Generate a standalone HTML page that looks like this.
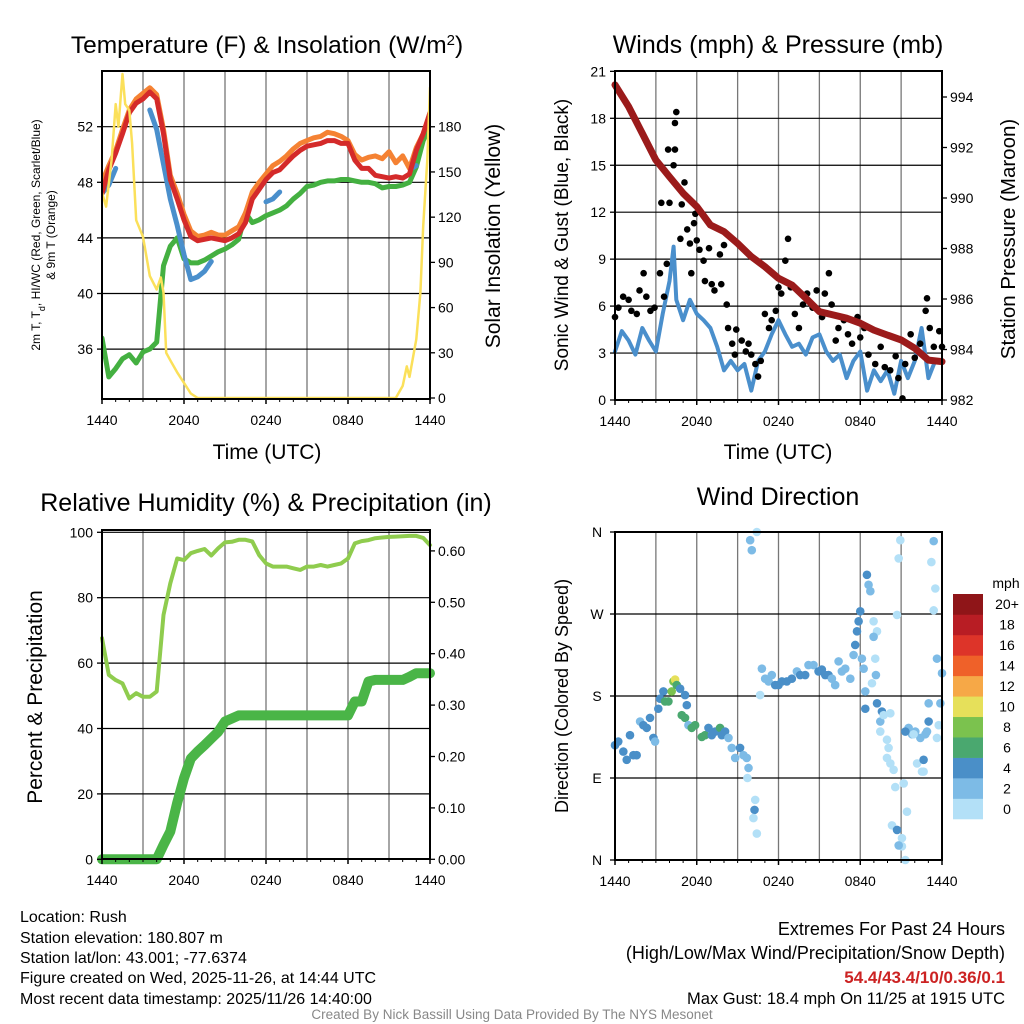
<!DOCTYPE html>
<html><head><meta charset="utf-8">
<style>
html,body{margin:0;padding:0;background:#fff;}
svg{display:block;font-family:"Liberation Sans",Arial,sans-serif;}
</style></head>
<body>
<svg id="fig" width="1024" height="1024" viewBox="0 0 1024 1024" xmlns="http://www.w3.org/2000/svg">
<rect width="1024" height="1024" fill="#fff"/>
<g id="p1"></g>
<g id="p2"></g>
<g id="p3"></g>
<g id="p4"></g>

<text x="267" y="53" font-size="24.5" text-anchor="middle">Temperature (F) &amp; Insolation (W/m<tspan baseline-shift="super" font-size="15">2</tspan>)</text>
<text x="778" y="53" font-size="25" text-anchor="middle">Winds (mph) &amp; Pressure (mb)</text>
<text x="266" y="511" font-size="25" text-anchor="middle">Relative Humidity (%) &amp; Precipitation (in)</text>
<text x="778" y="505" font-size="25" text-anchor="middle">Wind Direction</text>

<text font-size="12" text-anchor="middle" transform="translate(40,235) rotate(-90)">2m T, T<tspan baseline-shift="sub" font-size="9">d</tspan>, HI/WC (Red, Green, Scarlet/Blue)</text>
<text font-size="12" text-anchor="middle" transform="translate(55,235) rotate(-90)">&amp; 9m T (Orange)</text>
<text font-size="21" text-anchor="middle" transform="translate(500,236) rotate(-90)">Solar Insolation (Yellow)</text>
<text font-size="19" text-anchor="middle" transform="translate(568,235) rotate(-90)">Sonic Wind &amp; Gust (Blue, Black)</text>
<text font-size="20.5" text-anchor="middle" transform="translate(1015,239) rotate(-90)">Station Pressure (Maroon)</text>
<text font-size="21" text-anchor="middle" transform="translate(42,697) rotate(-90)">Percent &amp; Precipitation</text>
<text font-size="18" text-anchor="middle" transform="translate(568,696) rotate(-90)">Direction (Colored By Speed)</text>
<text x="267" y="459" font-size="21" text-anchor="middle">Time (UTC)</text>
<text x="778" y="459" font-size="21" text-anchor="middle">Time (UTC)</text>

<g font-size="16">
<text x="20" y="922">Location: Rush</text>
<text x="20" y="943">Station elevation: 180.807 m</text>
<text x="20" y="963">Station lat/lon: 43.001; -77.6374</text>
<text x="20" y="983">Figure created on Wed, 2025-11-26, at 14:44 UTC</text>
<text x="20" y="1004">Most recent data timestamp: 2025/11/26 14:40:00</text>
</g>
<g text-anchor="end">
<text x="1005" y="935" font-size="18">Extremes For Past 24 Hours</text>
<text x="1005" y="959" font-size="18">(High/Low/Max Wind/Precipitation/Snow Depth)</text>
<text x="1005" y="983" font-size="17" font-weight="bold" fill="#cc2222">54.4/43.4/10/0.36/0.1</text>
<text x="1005" y="1004" font-size="16.5">Max Gust: 18.4 mph On 11/25 at 1915 UTC</text>
</g>
<text x="512" y="1019" font-size="13.5" fill="#888" text-anchor="middle">Created By Nick Bassill Using Data Provided By The NYS Mesonet</text>
</svg>
<script>
// ---------- data ----------
const xTickLabels = ["1440","2040","0240","0840","1440"];
const halfHours = Array.from({length:49},(_,i)=>i*0.5);
const tempT = [47.2,48.9,50.1,51.5,53,53.7,54,54.5,54,51.5,48.2,46.8,45.3,44.1,43.8,43.9,44.0,43.9,43.8,44.0,44.3,45.1,46.8,47.5,48.2,48.7,48.9,49.4,49.9,50.3,50.6,50.7,50.8,51.0,51.0,50.8,50.8,49.6,49.0,49.0,48.5,48.4,48.3,48.4,48.3,48.6,50.3,51.5,53.0];
const temp9m = [48.0,49.2,50.3,51.8,53.2,54.0,54.4,54.8,54.3,51.8,48.5,47.2,45.7,44.5,44.1,44.2,44.4,44.2,44.2,44.5,44.8,45.8,47.3,48.0,48.6,49.2,49.5,49.9,50.4,50.8,51.0,51.2,51.3,51.6,51.5,51.3,51.0,50.0,49.6,49.8,49.9,49.7,50.2,49.4,49.9,49.0,50.5,51.5,53.0];
const dewT = [36.8,34.0,34.6,35.3,35.6,35.0,35.8,36.0,36.5,42.0,43.4,44.0,42.5,42.2,42.2,42.4,42.7,43.0,43.2,43.5,43.9,45.8,45.1,45.3,45.6,45.8,46.0,46.3,46.8,47.2,47.7,47.8,48.0,48.1,48.1,48.2,48.2,48.1,48.0,48.0,47.9,47.6,47.7,47.7,47.8,48.0,49.1,51.0,52.0];
const hiwc = [47.2,47.8,49.0,null,null,null,null,53.2,51.8,49.3,46.8,44.9,42.8,41.0,41.2,41.6,42.3,null,null,null,null,null,null,null,46.6,46.8,47.3,null,null,null,null,null,null,null,null,null,null,null,null,null,null,null,null,null,null,null,49.2,null,null];
const solT = [0,0.3,0.7,1,1.2,1.5,1.7,2,2.2,2.5,3,3.5,4,4.3,4.5,4.7,5,5.5,6,6.5,7,21.5,22,22.3,22.5,23,23.3,23.5,23.8,24];
const solV = [136,127,158,195,180,215,195,191,169,118,107,81,72,80,70,30,25,17,10,3,0,0,8,21,14,39,70,114,158,206];
const tempTicks = [36,40,44,48,52];
const solTicks = [0,30,60,90,120,150,180];

const hourly = Array.from({length:25},(_,i)=>i);
const pressure = [994.48,993.62,992.56,991.5,990.84,990.19,989.66,988.93,988.67,988.2,987.68,987.28,986.82,986.55,986.03,985.5,985.37,985.24,985.04,984.77,984.57,984.38,984.05,983.58,983.52];
const sonicWind = [3.1,4.4,3.8,2.9,4.6,3.8,3.1,5.5,7.6,6.4,5.1,6.4,5.5,5.1,4.6,3.4,1.9,2.5,1.9,2.3,0.6,2.5,3.1,4.2,5.1,4.2,3.4,3.6,2.9,4.0,4.2,3.1,2.5,2.9,1.4,2.5,3.1,0.6,1.9,1.2,1.9,0.4,2.5,1.4,2.5,4.6,1.4,2.5,2.5];
const sonicPeakT = 4.3, sonicPeakV = 9.8;
const gustT = [0,0.25,0.6,1,1.2,1.6,1.8,2.1,2.3,2.6,2.9,3.3,3.6,3.8,3.4,4.0,3.9,4.4,4.3,4.4,4.5,4.9,5.1,4.8,5.3,5.5,5.8,5.9,6.0,5.6,6.2,6.5,6.6,6.9,7.1,7.3,7.7,8.0,7.8,8.2,8.3,8.6,8.8,8.9,9.3,9.6,9.8,10,10.3,10.5,10.7,11,11.3,11.5,11.8,12,12.2,12.5,12.7,12.9,13.2,13.5,13.8,14.1,14.5,14.8,15.2,15.4,15.7,15.9,16.2,16.4,16.8,17.1,17.4,17.8,18,18.3,18.6,19.1,19.5,19.8,20.2,20.6,20.8,21.1,21.3,21.7,22,22.4,22.8,22.9,23.1,23.4,23.8,24];
const gustV = [5.3,5.9,6.6,6.4,5.7,5.5,7.0,8.1,6.6,5.7,5.9,8.1,6.6,8.7,12.6,12.6,16,16,15,17.7,18.4,12.5,13.9,10.3,10.9,10,11.3,11.9,10.2,8.1,9.6,8.9,7.6,9.7,7.4,7.0,9.3,9.9,7.4,6.1,4.6,3.6,2.9,4.5,3.8,3.1,3.6,2.9,2.3,1.5,2.5,5.5,4.6,5.1,5.7,7.2,6.8,8.9,10.3,7.2,5.5,4.6,6.1,6.8,5.9,7.0,5.3,6.8,8.1,6.1,3.8,4.6,5.1,4.2,3.6,5.3,4.0,4.6,2.9,2.3,3.4,2.1,1.9,2.8,1.4,0.1,2.3,4.2,2.7,3.6,5.7,6.5,4.6,3.4,4.4,3.4];
const windTicks = [0,3,6,9,12,15,18,21];
const presTicks = [982,984,986,988,990,992,994];

const rh = [67.6,56.4,54.8,53.8,49.2,50.8,49.7,49.7,51.3,74.7,84.4,92.0,91.5,93.6,94.3,94.9,92.9,95.1,96.9,97.1,97.7,97.7,97.2,93.0,90.5,89.5,89.5,89.5,89.0,88.5,89.5,89.5,90.0,89.5,90.0,90.5,92.0,96.6,97.3,97.6,98.2,98.4,98.6,98.7,98.8,98.9,98.9,98.3,96.1];
const precip = [0,0,0,0,0,0,0,0,0,0.028,0.054,0.11,0.158,0.196,0.21,0.222,0.235,0.248,0.268,0.274,0.28,0.28,0.28,0.28,0.28,0.28,0.28,0.28,0.28,0.28,0.28,0.28,0.28,0.28,0.28,0.28,0.28,0.307,0.307,0.346,0.349,0.349,0.349,0.349,0.349,0.355,0.362,0.362,0.362];
const rhTicks = [0,20,40,60,80,100];
const prTicks = [0,0.1,0.2,0.3,0.4,0.5,0.6];

const dirT = [0,0.24,0.61,0.86,1.1,1.35,1.59,1.84,2.08,2.33,2.57,2.82,2.94,3.18,3.31,3.55,3.67,3.92,4.16,4.29,4.41,4.53,4.78,5.14,5.27,4.9,5.14,5.39,5.63,5.88,6.37,6.61,6.86,7.1,7.35,7.71,7.84,8.08,8.33,8.57,8.82,9.18,9.43,9.67,9.8,9.72,9.92,10.04,10.41,10.29,10.24,10.16,10.41,10.65,10.78,11.02,11.27,11.51,11.76,12,12.25,12.61,12.98,13.35,13.59,13.96,14.2,14.57,14.94,15.18,15.43,15.67,15.92,16.16,16.41,16.65,16.9,17.27,17.51,17.63,17.76,17.88,18,18.12,18.25,18.37,18.49,18.61,18.74,18.98,19.23,18.98,19.1,19.15,18.86,18.37,19.23,19.59,19.47,19.72,19.47,19.96,20.08,19.96,20.21,20.45,20.57,20.21,20.33,20.7,20.7,20.82,20.94,21.06,21.06,21.31,21.19,21.43,21.55,21.8,22.04,22.41,22.78,22.9,23.02,21.31,21.92,22.17,22.65,22.65,22.53,23.22,23.39,23.51,23.39,23.63,23.63,23.76,23.88,24,23.02,20.82];
const dirDeg = [126,130,119,110,137,115,115,152,148,145,156,134,130,166,177,185,174,174,185,196,198,192,188,181,170,159,156,148,145,148,135,137,145,137,141,145,137,141,134,123,112,123,115,112,101,90,351,340,360,66,55,46,29,181,210,199,196,203,192,192,196,196,199,207,203,203,214,214,207,209,203,203,199,192,218,207,210,199,225,236,251,262,273,221,210,185,313,302,295,262,251,245,221,203,194,166,172,163,152,159,141,132,123,112,106,99,80,161,38,33,269,331,351,24,15,0,84,53,145,138,141,134,138,141,152,141,138,106,97,110,97,327,350,298,274,221,134,148,172,205,172,16,274];
const dirSpd = [4,4,4,4,4,4,4,3,4,4,4,4,3,4,4,4,6,6,8,8,10,6,4,4,4,6,6,3,6,6,6,6,4,4,4,6,4,4,3,3,3,4,3,3,3,1,3,3,1,1,4,1,1,1,3,3,3,3,4,4,4,4,4,3,4,4,3,3,4,4,4,4,3,3,3,3,3,3,3,4,4,4,4,3,3,3,4,3,3,1,1,2,1,3,1,4,4,4,3,1,1,1,1,1,1,1,1,1,1,4,1,1,1,1,1,1,1,1,3,3,3,3,3,2,4,4,1,1,1,4,1,1,3,1,1,3,1,1,3,3,3,3,1];
const dirLabels = ["N","E","S","W","N"];
const binLabels = ["0","2","4","6","8","10","12","14","16","18","20+"];
const binColors = ["#b3e0f7","#7dbbe6","#4a8fc8","#4aa86f","#7bc24e","#e6e05a","#f6a847","#ef6129","#dd3429","#b81d24","#8f1518"];

// ---------- helpers ----------
const NS="http://www.w3.org/2000/svg";
function mk(parent, tag, attrs){const e=document.createElementNS(NS,tag);for(const k in attrs)e.setAttribute(k,attrs[k]);parent.appendChild(e);return e;}
function linePath(ts, vs, xf, yf){let d="",pen=false;for(let i=0;i<ts.length;i++){const v=vs[i];if(v===null||v===undefined){pen=false;continue;}d+=(pen?"L":"M")+xf(ts[i]).toFixed(1)+","+yf(v).toFixed(1);pen=true;}return d;}
function panelFrame(g, x0,x1,y0,y1, hTicksY){
  for(let h=3;h<24;h+=3){const x=x0+(x1-x0)*h/24;
    const l=mk(g,"line",{x1:x,x2:x,y1:y0,y2:y1,stroke:"#777","stroke-width":1.3});
    
    }
  hTicksY.forEach(y=>{if(y>y0+1&&y<y1-1){const l=mk(g,"line",{x1:x0,x2:x1,y1:y,y2:y,stroke:"#000","stroke-width":1.2});
    
    }});
}
function border(g,x0,x1,y0,y1){const r=mk(g,"rect",{x:x0,y:y0,width:x1-x0,height:y1-y0,fill:"none",stroke:"#000","stroke-width":2});
  
  }
function xAxis(g,x0,x1,y1){xTickLabels.forEach((s,i)=>{const x=x0+(x1-x0)*i/4;
  mk(g,"line",{x1:x,x2:x,y1:y1,y2:y1+5,stroke:"#000","stroke-width":1.5});
  const t=mk(g,"text",{x:x,y:y1+26,"font-size":14,"text-anchor":"middle"});t.textContent=s;
  
  });
  for(let h=1;h<24;h++){if(h%6){const x=x0+(x1-x0)*h/24;mk(g,"line",{x1:x,x2:x,y1:y1,y2:y1+3,stroke:"#000","stroke-width":1});}}}
function yTicks(g,ticks,yf,x,side,fmt){ticks.forEach(v=>{const y=yf(v);
  mk(g,"line",{x1:x,x2:x+(side==="left"?-5:5),y1:y,y2:y,stroke:"#000","stroke-width":1.3});
  const t=mk(g,"text",{x:side==="left"?x-9:x+8,y:y+5,"font-size":14,"text-anchor":side==="left"?"end":"start"});t.textContent=fmt?fmt(v):v;
  
  });}

// ---------- panel 1 ----------
(function(){
  const g=document.getElementById("p1");const x0=102,x1=430,y0=71,y1=399;
  const xf=h=>x0+(x1-x0)*h/24, yT=v=>126.7-(v-52)*13.9, yS=v=>398-v*1.507;
  panelFrame(g,x0,x1,y0,y1,tempTicks.map(yT));
  const cp=mk(g,"clipPath",{id:"c1"});mk(cp,"rect",{x:x0,y:y0,width:x1-x0,height:y1-y0});
  const d=mk(g,"g",{"clip-path":"url(#c1)","stroke-linejoin":"round","stroke-linecap":"round",fill:"none"});
  let p;
  p=mk(d,"path",{d:linePath(halfHours,dewT,xf,yT),stroke:"#44b041","stroke-width":5});
  
  p=mk(d,"path",{d:linePath(halfHours,hiwc,xf,yT),stroke:"#4a8fcc","stroke-width":5});
  
  hiwc.forEach((v,i)=>{const a=hiwc[i-1],b=hiwc[i+1];if(v!==null&&(a===null||a===undefined)&&(b===null||b===undefined)){mk(d,"line",{x1:xf(halfHours[i])-5,x2:xf(halfHours[i]),y1:yT(v)+3,y2:yT(v),stroke:"#4a8fcc","stroke-width":5});}});
  p=mk(d,"path",{d:linePath(halfHours,temp9m,xf,yT),stroke:"#f58233","stroke-width":5});
  
  p=mk(d,"path",{d:linePath(halfHours,tempT,xf,yT),stroke:"#d42a2a","stroke-width":5});
  
  p=mk(d,"path",{d:linePath(solT,solV,xf,yS),stroke:"#fbe05a","stroke-width":2.5});
  
  border(g,x0,x1,y0,y1);xAxis(g,x0,x1,y1);
  yTicks(g,tempTicks,yT,x0,"left");yTicks(g,solTicks,yS,x1,"right");
})();

// ---------- panel 2 ----------
(function(){
  const g=document.getElementById("p2");const x0=615,x1=942,y0=71,y1=400;
  const xf=h=>x0+(x1-x0)*h/24, yW=v=>400-v*15.65, yP=v=>97-(v-994)*25.25;
  panelFrame(g,x0,x1,y0,y1,windTicks.map(yW));
  const cp=mk(g,"clipPath",{id:"c2"});mk(cp,"rect",{x:x0-4,y:y0,width:x1-x0+8,height:y1-y0});
  const d=mk(g,"g",{"clip-path":"url(#c2)","stroke-linejoin":"round","stroke-linecap":"round",fill:"none"});
  const wt=halfHours.slice(),wv=sonicWind.slice();
  const k=wt.findIndex(t=>t>sonicPeakT);wt.splice(k,0,sonicPeakT);wv.splice(k,0,sonicPeakV);
  let p=mk(d,"path",{d:linePath(wt,wv,xf,yW),stroke:"#4a8fcc","stroke-width":4});
  
  gustT.forEach((t,i)=>{const c=mk(d,"circle",{cx:xf(t),cy:yW(gustV[i]),r:3.3,fill:"#000"});
    
    });
  p=mk(d,"path",{d:linePath(hourly,pressure,xf,yP),stroke:"#9b1b1b","stroke-width":7});
  
  border(g,x0,x1,y0,y1);xAxis(g,x0,x1,y1);
  yTicks(g,windTicks,yW,x0,"left");yTicks(g,presTicks,yP,x1,"right");
})();

// ---------- panel 3 ----------
(function(){
  const g=document.getElementById("p3");const x0=102,x1=430,y0=530,y1=859;
  const xf=h=>x0+(x1-x0)*h/24, yR=v=>859.3-v*3.27, yPr=v=>859.3-v*514;
  panelFrame(g,x0,x1,y0,y1,rhTicks.map(yR));
  const cp=mk(g,"clipPath",{id:"c3"});mk(cp,"rect",{x:x0-8,y:y0,width:x1-x0+16,height:y1-y0+8});
  const d=mk(g,"g",{"clip-path":"url(#c3)","stroke-linejoin":"round","stroke-linecap":"round",fill:"none"});
  let p=mk(d,"path",{d:linePath(halfHours,rh,xf,yR),stroke:"#8fcc4e","stroke-width":4});
  
  p=mk(d,"path",{d:linePath(halfHours,precip,xf,yPr),stroke:"#4ab547","stroke-width":10});
  
  border(g,x0,x1,y0,y1);xAxis(g,x0,x1,y1);
  yTicks(g,rhTicks,yR,x0,"left");yTicks(g,prTicks,yPr,x1,"right",v=>v.toFixed(2));
})();

// ---------- panel 4 ----------
(function(){
  const g=document.getElementById("p4");const x0=615,x1=942,y0=532,y1=860;
  const xf=h=>x0+(x1-x0)*h/24, yD=v=>860-v*0.9111;
  const dTicks=[0,90,180,270,360];
  panelFrame(g,x0,x1,y0,y1,dTicks.map(yD));
  const d=mk(g,"g",{});
  dirT.forEach((t,i)=>{const s=dirSpd[i];const bin=Math.min(10,Math.floor(s/2));
    const c=mk(d,"circle",{cx:xf(t),cy:yD(dirDeg[i]),r:4.3,fill:binColors[bin]});
    
    });
  border(g,x0,x1,y0,y1);xAxis(g,x0,x1,y1);
  dTicks.forEach((v,i)=>{const y=yD(v);mk(g,"line",{x1:x0,x2:x0-5,y1:y,y2:y,stroke:"#000","stroke-width":1.3});
    const t=mk(g,"text",{x:x0-18,y:y+5,"font-size":14,"text-anchor":"middle"});t.textContent=dirLabels[i];
    
    });
  const lg=mk(g,"g",{});
  
  
  const by0=594,by1=819,bh=(by1-by0)/11;
  binColors.forEach((c,i)=>{const y=by1-(i+1)*bh;
    const r=mk(lg,"rect",{x:953,y:y,width:30,height:bh+0.3,fill:c});
    
    
    const t=mk(lg,"text",{x:1007,y:y+bh/2+5,"font-size":14,"text-anchor":"middle"});t.textContent=binLabels[i];
    
    });
  const mt=mk(lg,"text",{x:1006,y:588,"font-size":14,"text-anchor":"middle"});mt.textContent="mph";
  
  
})();
</script>
</body></html>
